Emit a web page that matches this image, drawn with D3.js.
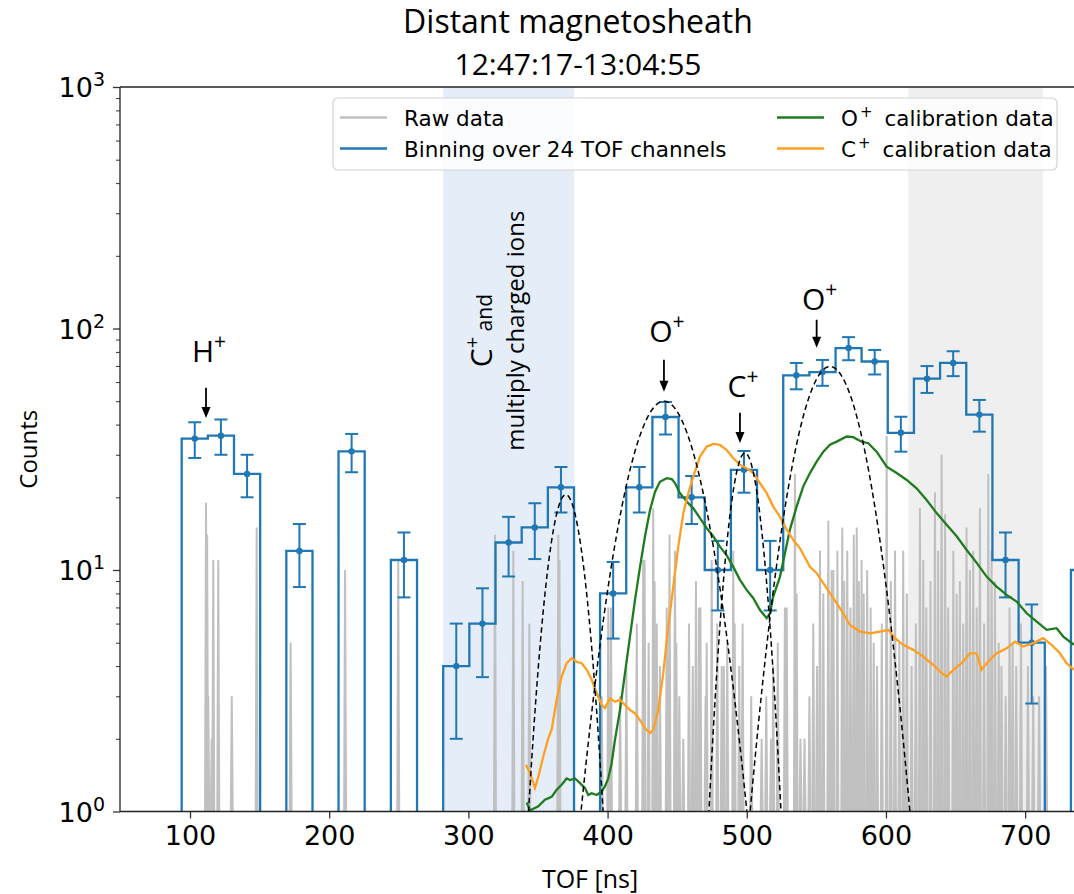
<!DOCTYPE html>
<html lang="en">
<head>
<meta charset="UTF-8">
<title>Distant magnetosheath</title>
<script src="https://cdn.jsdelivr.net/npm/d3@7"></script>
<style>
  body { margin: 0; background: #fff; }
  .mono { font-family: 'DejaVu Sans', sans-serif; }
  .sans { font-family: 'Open Sans', sans-serif; }
</style>
</head>
<body>
<div id="chart"></div>
<script>
// ---- values ----
// histogram: 24 TOF channels per bin (edges in ns)
var binEdges = [94.0, 112.8, 131.6, 150.4, 169.2, 188.0, 206.7, 225.5, 244.3, 263.1, 281.9, 300.7,
  319.5, 338.3, 357.1, 375.9, 394.6, 413.4, 432.2, 451.0, 469.8, 488.6, 507.4, 526.2, 545.0,
  563.8, 582.5, 601.3, 620.1, 638.9, 657.7, 676.5, 695.3, 714.1, 732.9, 751.7];
var binCounts = [35, 36, 25, 0, 12, 0, 31, 0, 11, 0, 4, 6, 13, 15, 22, 0, 8, 22, 43, 20,
  10, 26, 10, 64, 66, 83, 73, 37, 62, 72, 44, 11, 5, 0, 10];
var binErrors = [5.9, 6.0, 5.0, 0, 3.5, 0, 5.6, 0, 3.3, 0, 2.0, 2.4, 3.6, 3.9, 4.7, 0, 2.8, 4.7, 6.6, 4.5,
  3.2, 5.1, 3.2, 8.0, 8.1, 9.1, 8.5, 6.1, 7.9, 8.5, 6.6, 3.3, 2.2, 0, 3.2];

// raw data: non-empty TOF channels
var rawTof = [111.5, 112.3, 113.1, 115.6, 116.7, 120.3, 130.0, 147.9, 172.3, 211.4, 249.6, 319.1,
  332.3, 339.0, 343.8, 364.6, 365.4, 395.8, 400.5, 402.4, 409.0, 413.5, 421.0, 425.6, 426.6, 429.5,
  432.8, 433.8, 435.3, 437.6, 442.5, 444.5, 448.4, 449.4, 451.5, 454.4, 458.5, 461.2, 463.5, 465.7,
  466.7, 470.4, 471.2, 474.8, 478.8, 482.0, 483.5, 486.0, 490.3, 491.3, 494.6, 497.0, 503.2, 510.7,
  514.0, 517.4, 519.0, 522.3, 527.4, 528.7, 534.6, 535.8, 538.6, 541.5, 545.0, 547.8, 550.5, 552.6,
  555.0, 558.6, 561.0, 562.2, 565.1, 568.6, 570.0, 572.2, 574.5, 576.9, 579.0, 580.5, 582.5, 584.0,
  586.5, 589.0, 591.2, 593.6, 597.0, 600.5, 603.5, 606.5, 609.6, 612.4, 615.0, 618.4, 621.5, 624.4,
  626.8, 629.0, 632.0, 635.2, 637.5, 640.0, 642.5, 644.7, 648.4, 650.8, 653.1, 655.5, 657.9, 660.3,
  662.7, 665.2, 667.5, 670.5, 673.5, 675.9, 678.3, 681.0, 683.0, 686.0, 688.8, 691.0, 693.6, 697.0,
  702.0, 705.8, 710.0, 715.0];
var rawCounts = [19, 14, 3, 2, 11, 11, 3, 15, 5, 10, 11, 14, 12, 9, 6, 14, 11, 3, 7, 7, 3, 4, 6, 11,
  11, 5, 18, 9, 6, 4, 7, 14, 12, 5, 3, 2, 6, 4, 9, 7, 7, 3, 5, 11, 6, 4, 4, 5, 12, 6, 4, 6, 3, 2,
  3, 2, 4, 5, 7, 7, 25, 8, 2, 2, 3, 6, 4, 12, 8, 16, 10, 10, 12, 15, 9, 12, 7, 14, 15, 9, 11, 8,
  10, 7, 5, 4, 6, 36, 9, 12, 5, 12, 8, 4, 6, 18, 11, 7, 9, 21, 12, 30, 17, 7, 12, 8, 9, 6, 15, 10,
  12, 7, 18, 6, 25, 12, 9, 5, 4, 3, 7, 5, 4, 6, 4, 3, 3, 4];

// O+ calibration data
var oTof = [341.9, 344.3, 350.2, 355.0, 359.8, 363.4, 367.0, 370.6, 373.0, 376.6, 380.2, 383.8, 386.1,
  388.6, 392.2, 395.8, 398.1, 400.5, 402.9, 405.3, 408.9, 412.5, 416.1, 419.7, 423.3, 426.9, 430.5,
  434.1, 437.6, 442.5, 446.1, 448.4, 452.0, 456.8, 461.6, 466.4, 471.2, 475.9, 480.7, 485.6, 490.3,
  495.1, 499.9, 504.7, 509.5, 514.3, 516.7, 519.0, 523.9, 527.4, 531.0, 535.8, 540.6, 545.4, 550.2,
  555.0, 559.8, 564.6, 571.8, 576.5, 582.5, 587.3, 593.3, 600.5, 607.7, 614.9, 622.0, 629.2, 636.4,
  643.6, 650.8, 658.0, 665.2, 672.3, 679.5, 686.7, 693.9, 701.1, 708.3, 715.5, 722.6, 727.4, 735.1];
var oCounts = [1.09, 1.01, 1.05, 1.12, 1.15, 1.23, 1.29, 1.37, 1.35, 1.37, 1.31, 1.25, 1.17, 1.19, 1.17,
  1.21, 1.27, 1.37, 1.58, 1.98, 2.63, 3.74, 5.30, 7.52, 10.3, 13.8, 17.7, 21.1, 23.2, 24.0, 23.8, 22.9,
  20.8, 19.2, 18.0, 16.4, 14.9, 13.8, 12.5, 11.5, 10.3, 9.10, 8.27, 7.64, 6.83, 6.32, 6.62, 7.76, 9.39,
  11.7, 14.7, 18.3, 22.2, 25.2, 28.1, 30.9, 33.0, 34.0, 35.7, 35.5, 34.0, 33.5, 30.9, 26.8, 25.2, 23.6,
  21.8, 19.5, 17.2, 15.4, 13.8, 12.1, 10.7, 9.39, 8.54, 7.89, 7.40, 6.62, 6.11, 5.65, 5.74, 5.30, 4.90];

// C+ calibration data
var cTof = [341.4, 344.3, 347.8, 350.2, 353.8, 357.4, 359.8, 363.4, 367.0, 370.6, 374.2, 377.8, 381.4,
  385.0, 388.6, 392.2, 395.8, 398.1, 401.7, 405.3, 408.9, 412.5, 416.1, 419.7, 423.3, 426.9, 430.5,
  432.8, 436.4, 440.0, 443.6, 447.2, 450.8, 454.4, 458.0, 461.6, 466.4, 471.2, 475.9, 480.7, 485.6,
  490.3, 495.1, 499.9, 504.7, 509.5, 514.3, 519.0, 523.9, 528.7, 533.5, 538.2, 545.4, 550.2, 555.0,
  559.8, 564.6, 569.3, 574.1, 581.3, 588.5, 595.7, 601.7, 606.5, 612.4, 619.6, 626.8, 634.0, 640.0,
  643.6, 648.4, 654.4, 660.3, 665.1, 668.7, 672.3, 679.5, 686.7, 692.7, 698.6, 705.8, 713.0, 719.0,
  725.0, 729.8, 735.1];
var cCounts = [1.56, 1.44, 1.25, 1.39, 1.69, 2.01, 2.18, 2.90, 3.62, 4.11, 4.31, 4.17, 4.11, 3.86, 3.51,
  3.09, 2.76, 2.68, 2.94, 2.85, 2.90, 2.76, 2.63, 2.55, 2.39, 2.21, 2.11, 2.18, 2.63, 3.74, 5.83, 8.54,
  12.5, 17.2, 20.8, 24.4, 29.5, 32.4, 33.3, 33.0, 31.4, 29.0, 27.3, 26.4, 25.2, 22.9, 20.8, 18.3, 16.6,
  14.7, 13.3, 12.3, 10.3, 9.70, 8.82, 8.01, 7.29, 6.62, 5.92, 5.56, 5.47, 5.56, 5.65, 5.22, 4.90, 4.67,
  4.38, 4.05, 3.74, 3.62, 3.86, 4.11, 4.52, 4.52, 3.86, 4.11, 4.52, 4.74, 5.05, 4.82, 4.98, 5.22, 4.90,
  4.52, 4.11, 3.86];

// gaussian fits (dashed)
var fitAmps = [20.5, 50.0, 30.5, 69.6];
var fitCenters = [370.0, 440.5, 498.7, 559.8];
var fitSigmas = [10.9, 21.3, 9.9, 19.7];

// shaded TOF ranges
var ionBand = [281.9, 376.0];
var calBand = [616.0, 712.6];

// ion peak markers
var ionLabels = ["H", "O", "C", "O"];
var ionTof = [111.5, 440.5, 495.1, 550.2];
var arrowTip = [42.6, 54.7, 33.6, 83.2];
var arrowTail = [56.8, 74.2, 44.8, 108.7];
var labelLevel = [72.8, 88.1, 52.1, 119.5];

var xTicks = [100, 200, 300, 400, 500, 600, 700];
var yTicks = [1, 10, 100, 1000];

// ---- chart ----
var W = 1074, H = 894;
var pLeft = 120, pRight = 1074, pTop = 87, pBottom = 811.5;

var svg = d3.select("#chart").append("svg")
  .attr("width", W).attr("height", H);

var x = d3.scaleLinear().domain([49.7, 735.1]).range([pLeft, pRight]);
var y = d3.scaleLog().domain([1, 1000]).range([pBottom, pTop]);
function yc(c) { return c > 0 ? y(c) : pBottom + 5; }

svg.append("defs").append("clipPath").attr("id", "plot")
  .append("rect").attr("x", pLeft).attr("y", pTop)
  .attr("width", pRight - pLeft).attr("height", pBottom - pTop);

var plot = svg.append("g").attr("clip-path", "url(#plot)");

// shaded bands
plot.append("rect")
  .attr("x", x(ionBand[0])).attr("y", pTop)
  .attr("width", x(ionBand[1]) - x(ionBand[0])).attr("height", pBottom - pTop)
  .attr("fill", "#e5edf9");
plot.append("rect")
  .attr("x", x(calBand[0])).attr("y", pTop)
  .attr("width", x(calBand[1]) - x(calBand[0])).attr("height", pBottom - pTop)
  .attr("fill", "#efefef");

// raw data spikes
var line = d3.line().x(function(d) { return d[0]; }).y(function(d) { return d[1]; });
plot.selectAll(".raw").data(rawTof).enter().append("path")
  .attr("class", "raw")
  .attr("d", function(t, i) {
    return line([[x(t - 0.7), pBottom + 2], [x(t), yc(rawCounts[i])], [x(t + 0.7), pBottom + 2]]);
  })
  .attr("fill", "none").attr("stroke", "#c0c0c0").attr("stroke-width", 2);

// histogram step outline
var stepPts = [[x(binEdges[0]), pBottom + 5]];
binCounts.forEach(function(c, i) {
  stepPts.push([x(binEdges[i]), yc(c)]);
  stepPts.push([x(binEdges[i + 1]), yc(c)]);
});
stepPts.push([x(binEdges[binEdges.length - 1]), pBottom + 5]);
plot.append("path").attr("d", line(stepPts))
  .attr("fill", "none").attr("stroke", "#1f77b4").attr("stroke-width", 2.3);

// error bars
binCounts.forEach(function(c, i) {
  if (c <= 0) return;
  var cx = x((binEdges[i] + binEdges[i + 1]) / 2);
  var g = plot.append("g").attr("stroke", "#1f77b4").attr("stroke-width", 2);
  var y1 = y(c - binErrors[i]), y2 = y(c + binErrors[i]);
  g.append("line").attr("x1", cx).attr("x2", cx).attr("y1", y1).attr("y2", y2);
  g.append("line").attr("x1", cx - 6.5).attr("x2", cx + 6.5).attr("y1", y1).attr("y2", y1);
  g.append("line").attr("x1", cx - 6.5).attr("x2", cx + 6.5).attr("y1", y2).attr("y2", y2);
  plot.append("circle").attr("cx", cx).attr("cy", y(c)).attr("r", 3.2).attr("fill", "#1f77b4");
});

// calibration curves
var curve = d3.line()
  .x(function(d) { return x(d[0]); })
  .y(function(d) { return y(d[1]); });
plot.append("path").attr("d", curve(oTof.map(function(t, i) { return [t, oCounts[i]]; })))
  .attr("fill", "none").attr("stroke", "#1e7b1e").attr("stroke-width", 2.3);
plot.append("path").attr("d", curve(cTof.map(function(t, i) { return [t, cCounts[i]]; })))
  .attr("fill", "none").attr("stroke", "#ff9f1f").attr("stroke-width", 2.3);

// gaussian fits
fitAmps.forEach(function(a, k) {
  var mu = fitCenters[k], s = fitSigmas[k], pts = [];
  for (var t = mu - 4 * s; t <= mu + 4 * s; t += 0.5) {
    pts.push([t, a * Math.exp(-(t - mu) * (t - mu) / (2 * s * s))]);
  }
  plot.append("path").attr("d", curve(pts))
    .attr("fill", "none").attr("stroke", "#000").attr("stroke-width", 1.5)
    .attr("stroke-dasharray", "5.5,3.5");
});

// axes
var xAxis = svg.append("g").attr("transform", "translate(0," + pBottom + ")")
  .call(d3.axisBottom(x).tickValues(xTicks).tickSize(7).tickPadding(7).tickFormat(d3.format("d")));
xAxis.select(".domain").remove();
xAxis.selectAll("line").attr("stroke", "#333").attr("stroke-width", 1.3);
xAxis.selectAll("text").attr("class", "mono").attr("font-size", "27px").attr("fill", "#000");

var minor = [];
[1, 10, 100].forEach(function(d) { for (var k = 2; k <= 9; k++) minor.push(d * k); });
var yMinor = svg.append("g").attr("transform", "translate(" + pLeft + ",0)")
  .call(d3.axisLeft(y).tickValues(minor).tickSize(4).tickFormat(""));
yMinor.select(".domain").remove();
yMinor.selectAll("line").attr("stroke", "#333").attr("stroke-width", 1);
var yAxis = svg.append("g").attr("transform", "translate(" + pLeft + ",0)")
  .call(d3.axisLeft(y).tickValues(yTicks).tickSize(7).tickFormat(""));
yAxis.select(".domain").remove();
yAxis.selectAll("line").attr("stroke", "#333").attr("stroke-width", 1.3);

yTicks.forEach(function(v) {
  var t = svg.append("text").attr("class", "mono").attr("x", 105).attr("y", y(v) + 10)
    .attr("text-anchor", "end").attr("font-size", "27px");
  t.append("tspan").text("10");
  t.append("tspan").attr("dy", -11).attr("font-size", "19px").text(Math.round(Math.log10(v)));
});

// spines
svg.append("line").attr("x1", pLeft).attr("x2", pLeft).attr("y1", pTop).attr("y2", pBottom)
  .attr("stroke", "#222").attr("stroke-width", 1.3);
svg.append("line").attr("x1", pLeft).attr("x2", pRight).attr("y1", pBottom).attr("y2", pBottom)
  .attr("stroke", "#222").attr("stroke-width", 1.3);
svg.append("line").attr("x1", pLeft).attr("x2", pRight).attr("y1", pTop).attr("y2", pTop)
  .attr("stroke", "#222").attr("stroke-width", 1.3);

// ion arrows and labels
ionLabels.forEach(function(lab, i) {
  var ax = x(ionTof[i]), tip = y(arrowTip[i]), tail = y(arrowTail[i]);
  svg.append("line").attr("x1", ax).attr("x2", ax).attr("y1", tail).attr("y2", tip - 9)
    .attr("stroke", "#000").attr("stroke-width", 1.8);
  svg.append("path")
    .attr("d", "M" + (ax - 4.5) + "," + (tip - 11) + "L" + (ax + 4.5) + "," + (tip - 11) + "L" + ax + "," + tip + "Z")
    .attr("fill", "#000");
  var t = svg.append("text").attr("class", "sans").attr("x", ax + 3).attr("y", y(labelLevel[i]))
    .attr("text-anchor", "middle").attr("font-size", "30px");
  t.append("tspan").text(lab);
  t.append("tspan").attr("dy", -13).attr("font-size", "21px").text("+");
});

// rotated band label
var rot = svg.append("g").attr("class", "sans");
var r1 = rot.append("text")
  .attr("transform", "translate(" + x(316.7) + "," + y(98) + ") rotate(-90)")
  .attr("text-anchor", "middle").attr("font-size", "30px");
r1.append("tspan").text("C");
r1.append("tspan").attr("dy", -13).attr("font-size", "20px").text("+");
r1.append("tspan").attr("dy", 13).attr("font-size", "21px").text(" and");
rot.append("text")
  .attr("transform", "translate(" + x(340) + "," + y(98) + ") rotate(-90)")
  .attr("text-anchor", "middle").attr("font-size", "24px").text("multiply charged ions");

// titles
svg.append("text").attr("class", "sans").attr("x", 578).attr("y", 33)
  .attr("text-anchor", "middle").attr("font-size", "32px").text("Distant magnetosheath");
svg.append("text").attr("class", "sans").attr("x", 578).attr("y", 75)
  .attr("text-anchor", "middle").attr("font-size", "30px").text("12:47:17-13:04:55");
svg.append("text").attr("class", "sans").attr("x", 590).attr("y", 888)
  .attr("text-anchor", "middle").attr("font-size", "25px").text("TOF [ns]");
svg.append("text").attr("class", "sans")
  .attr("transform", "translate(37," + ((pTop + pBottom) / 2) + ") rotate(-90)")
  .attr("text-anchor", "middle").attr("font-size", "24px").text("Counts");

// legend
var lg = svg.append("g").attr("class", "mono");
lg.append("rect").attr("x", 333).attr("y", 98).attr("width", 724).attr("height", 72)
  .attr("rx", 5).attr("fill", "#fff").attr("fill-opacity", 0.8)
  .attr("stroke", "#d3d3d3").attr("stroke-width", 1.2);
var legendItems = [
  { col: 0, row: 0, color: "#c0c0c0", text: ["Raw data"] },
  { col: 0, row: 1, color: "#1f77b4", text: ["Binning over 24 TOF channels"] },
  { col: 1, row: 0, color: "#1e7b1e", text: ["O", "+", "calibration data"] },
  { col: 1, row: 1, color: "#ff9f1f", text: ["C", "+", "calibration data"] }
];
var colLine = [340, 777], colText = [404, 841], rowY = [117.5, 148.5];
legendItems.forEach(function(it) {
  var ly = rowY[it.row];
  lg.append("line").attr("x1", colLine[it.col]).attr("x2", colLine[it.col] + 47)
    .attr("y1", ly).attr("y2", ly).attr("stroke", it.color).attr("stroke-width", 2.3);
  var t = lg.append("text").attr("x", colText[it.col]).attr("y", ly + 8).attr("font-size", "21.5px");
  t.append("tspan").text(it.text[0]);
  if (it.text.length > 1) {
    t.append("tspan").attr("dx", 2).attr("dy", -9).attr("font-size", "15px").text(it.text[1]);
    t.append("tspan").attr("dx", 12).attr("dy", 9).text(it.text[2]);
  }
});
</script>
</body>
</html>
